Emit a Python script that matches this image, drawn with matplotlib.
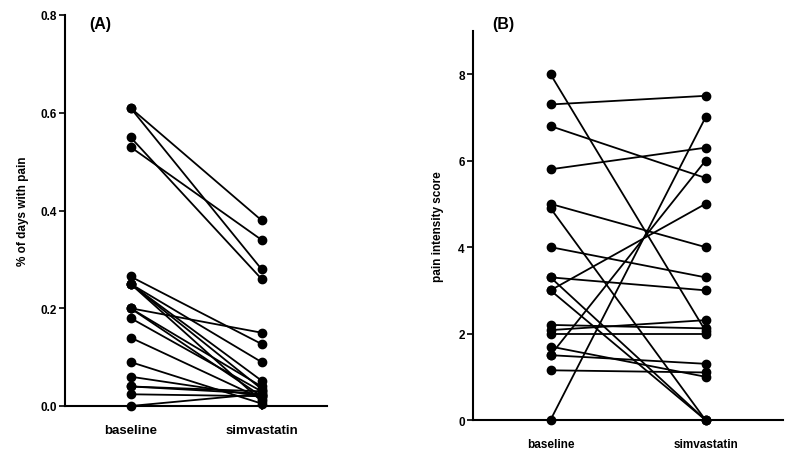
import matplotlib
matplotlib.use("Agg")
import matplotlib.pyplot as plt

plt.rcParams['font.family'] = ['Liberation Sans', 'DejaVu Sans']
plt.rcParams['font.weight'] = 'bold'

categories = ["baseline", "simvastatin"]

# Panel A: % of days with pain (baseline -> simvastatin) per subject
a_baseline = [0.61, 0.61, 0.55, 0.53, 0.265, 0.25, 0.25, 0.25, 0.25, 0.20,
              0.20, 0.20, 0.18, 0.14, 0.09, 0.06, 0.04, 0.04, 0.024, 0.0]
a_simva = [0.38, 0.28, 0.26, 0.34, 0.127, 0.09, 0.052, 0.035, 0.01, 0.15,
           0.04, 0.02, 0.03, 0.015, 0.005, 0.02, 0.03, 0.025, 0.02, 0.025]
a_yticks = [0.0, 0.2, 0.4, 0.6, 0.8]
a_yticklabels = ["0.0", "0.2", "0.4", "0.6", "0.8"]

# Panel B: pain intensity score
b_baseline = [8.0, 7.3, 6.8, 5.8, 5.0, 4.9, 4.0, 3.3, 3.3, 3.0,
              3.0, 2.2, 2.08, 2.0, 1.7, 1.5, 1.5, 1.15, 0.0]
b_simva = [2.06, 7.5, 5.6, 6.3, 4.0, 0.0, 3.3, 3.0, 0.0, 5.0,
           0.0, 2.12, 2.31, 2.0, 1.0, 1.3, 6.0, 1.1, 7.0]
b_yticks = [0, 2, 4, 6, 8]

fig = plt.figure(figsize=(8, 4.6), dpi=100)
axA = fig.add_axes([65/800, 1 - 407/460, 262/800, 391/460])
axB = fig.add_axes([473/800, 1 - 421/460, 310/800, 389/460])


def draw(ax, base, sim):
    for b, s in zip(base, sim):
        ax.plot([0, 1], [b, s], color='black', lw=1.3, marker='o', ms=6,
                mec='black', mfc='black', clip_on=False, zorder=3)
    ax.set_xlim(-0.5, 1.5)
    ax.set_xticks([0, 1])
    for side in ['top', 'right']:
        ax.spines[side].set_visible(False)
    for side in ['left', 'bottom']:
        ax.spines[side].set_linewidth(1.5)
    ax.tick_params(axis='y', direction='out', length=4, width=1.2, pad=2)
    ax.tick_params(axis='x', direction='out', length=3, width=1.2, pad=10)


draw(axA, a_baseline, a_simva)
axA.set_ylim(0, 0.8)
axA.set_yticks(a_yticks)
axA.set_yticklabels(a_yticklabels, fontsize=8.5, fontweight='bold')
axA.set_xticklabels(categories, fontsize=9.5, fontweight='bold')
axA.set_ylabel("% of days with pain", fontsize=8.5, fontweight='bold', labelpad=8)
fig.text(100/800, 1 - 24/460, "(A)", fontsize=11.5, fontweight='bold',
         ha='center', va='center')

draw(axB, b_baseline, b_simva)
axB.set_ylim(0, 9)
axB.set_yticks(b_yticks)
axB.set_yticklabels([str(t) for t in b_yticks], fontsize=8.5, fontweight='bold')
axB.set_xticklabels(categories, fontsize=8.5, fontweight='bold')
axB.set_ylabel("pain intensity score", fontsize=8.5, fontweight='bold', labelpad=10)
fig.text(503/800, 1 - 24/460, "(B)", fontsize=11.5, fontweight='bold',
         ha='center', va='center')

fig.savefig("out.png", dpi=100)
